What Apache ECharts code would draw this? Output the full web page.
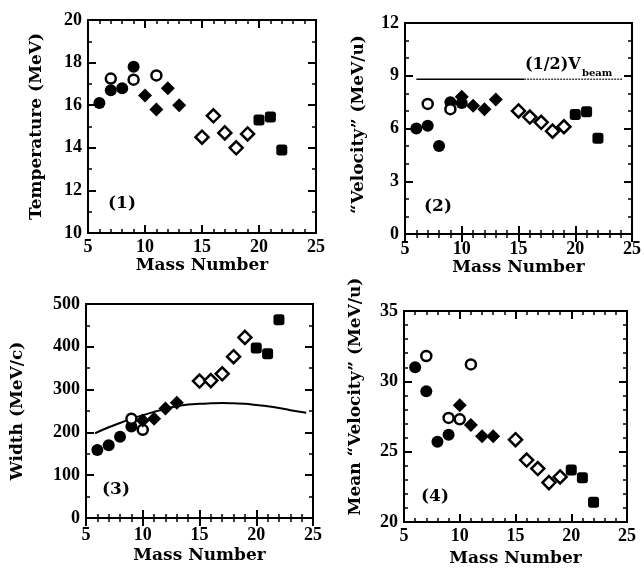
<!DOCTYPE html>
<html>
<head>
<meta charset="utf-8">
<script src="https://cdn.jsdelivr.net/npm/echarts@6/dist/echarts.min.js"></script>
<style>
  html, body { margin: 0; padding: 0; background: #fff; }
  #chart { width: 644px; height: 573px; }
</style>
</head>
<body>
<div id="chart"></div>
<script>
// ---- Panel (1): temperature vs mass number ----
const tempFilledCircle  = [[6, 16.1], [7, 16.7], [8, 16.8], [9, 17.8]];
const tempOpenCircle    = [[7, 17.25], [9, 17.2], [11, 17.4]];
const tempFilledDiamond = [[10, 16.45], [11, 15.8], [12, 16.8], [13, 16.0]];
const tempOpenDiamond   = [[15, 14.5], [16, 15.5], [17, 14.7], [18, 14.0], [19, 14.65]];
const tempFilledSquare  = [[20, 15.3], [21, 15.45], [22, 13.9]];

// ---- Panel (2): "velocity" vs mass number ----
const velFilledCircle  = [[6, 6.0], [7, 6.15], [8, 5.0], [9, 7.5], [10, 7.45]];
const velOpenCircle    = [[7, 7.4], [9, 7.1]];
const velFilledDiamond = [[10, 7.8], [11, 7.3], [12, 7.1], [13, 7.65]];
const velOpenDiamond   = [[15, 7.0], [16, 6.65], [17, 6.35], [18, 5.85], [19, 6.1]];
const velFilledSquare  = [[20, 6.8], [21, 6.95], [22, 5.45]];
const halfBeamSolid    = [[6, 8.8], [15.5, 8.8]];
const halfBeamDotted   = [[15.5, 8.8], [24.2, 8.8]];

// ---- Panel (3): width vs mass number ----
const widFilledCircle  = [[6, 159], [7, 170], [8, 190], [9, 214]];
const widOpenCircle    = [[9, 232], [10, 206]];
const widFilledDiamond = [[10, 228], [11, 232], [12, 256], [13, 269]];
const widOpenDiamond   = [[15, 320], [16, 321], [17, 337], [18, 377], [19, 422]];
const widFilledSquare  = [[20, 397], [21, 384], [22, 463]];
const widCurve = [[5.8, 198], [7, 212], [8, 222], [9, 232], [10, 240], [11, 248],
                  [12, 255], [13, 261], [14, 265], [15, 267], [16, 268], [17, 268.5],
                  [18, 268], [19, 267], [20, 264], [21, 261], [22, 257], [23, 252], [24.4, 246]];

// ---- Panel (4): mean "velocity" vs mass number ----
const meanFilledCircle  = [[6, 31.0], [7, 29.3], [8, 25.7], [9, 26.2]];
const meanOpenCircle    = [[7, 31.8], [9, 27.4], [10, 27.3], [11, 31.2]];
const meanFilledDiamond = [[10, 28.3], [11, 26.9], [12, 26.1], [13, 26.1]];
const meanOpenDiamond   = [[15, 25.85], [16, 24.4], [17, 23.8], [18, 22.8], [19, 23.2]];
const meanFilledSquare  = [[20, 23.7], [21, 23.15], [22, 21.4]];

// Axis ranges
const xRange = { min: 5, max: 25, interval: 5, minor: 5 };
const yRanges = [
  { min: 10, max: 20, interval: 2, minor: 2 },
  { min: 0, max: 12, interval: 3, minor: 3 },
  { min: 0, max: 500, interval: 100, minor: 2 },
  { min: 20, max: 35, interval: 5, minor: 5 }
];
const xTitle = 'Mass Number';
const yTitles = ['Temperature (MeV)', '\u201CVelocity\u201D (MeV/u)', 'Width (MeV/c)', 'Mean \u201CVelocity\u201D (MeV/u)'];

const NAME_FONT = 'DejaVu Serif';
const TICK_FONT = 'Liberation Serif';

const grids = [
  { left: 88, top: 20, width: 228, height: 213 },
  { left: 405, top: 23, width: 227, height: 211 },
  { left: 86, top: 304, width: 227, height: 214 },
  { left: 404, top: 311, width: 223, height: 211 }
];
const yNameGap = [43, 38, 60, 40];
const yNamePad = [[0, 0, 0, 0], [0, 0, 0, 8], [0, 0, 0, 0], [0, 0, 0, 40]];
const xNameGap = [24, 23, 29, 28];
const xLabelMargin = [5, 6, 8, 5];

// Fresh style objects for every axis
const axisLineOf = () => ({ lineStyle: { color: '#000', width: 2 } });
const tickOf = () => ({ show: true, inside: true, length: 8, lineStyle: { color: '#000', width: 2 } });
const minorTickOf = n => ({ show: true, splitNumber: n, length: 4, lineStyle: { color: '#000', width: 1.5 } });
const tickLabelOf = margin => ({
  margin, fontFamily: TICK_FONT, fontWeight: 'bold', fontSize: 18, color: '#000'
});
const nameStyleOf = padding => ({
  fontFamily: NAME_FONT, fontWeight: 'bold', fontSize: 17, color: '#000', padding
});

const xAxes = [], yAxes = [];
grids.forEach((g, i) => {
  const yr = yRanges[i];
  xAxes.push({
    type: 'value', gridIndex: i, position: 'bottom',
    min: xRange.min, max: xRange.max, interval: xRange.interval,
    axisLine: axisLineOf(), axisTick: tickOf(), minorTick: minorTickOf(xRange.minor),
    splitLine: { show: false }, axisLabel: tickLabelOf(xLabelMargin[i]),
    name: xTitle, nameLocation: 'middle', nameGap: xNameGap[i], nameTextStyle: nameStyleOf(0)
  });
  xAxes.push({
    type: 'value', gridIndex: i, position: 'top',
    min: xRange.min, max: xRange.max, interval: xRange.interval,
    axisLine: axisLineOf(), axisTick: tickOf(), minorTick: minorTickOf(xRange.minor),
    splitLine: { show: false }, axisLabel: { show: false }
  });
  yAxes.push({
    type: 'value', gridIndex: i, position: 'left',
    min: yr.min, max: yr.max, interval: yr.interval,
    axisLine: axisLineOf(), axisTick: tickOf(), minorTick: minorTickOf(yr.minor),
    splitLine: { show: false }, axisLabel: tickLabelOf(6),
    name: yTitles[i], nameLocation: 'middle', nameRotate: 90, nameGap: yNameGap[i],
    nameTextStyle: nameStyleOf(yNamePad[i])
  });
  yAxes.push({
    type: 'value', gridIndex: i, position: 'right',
    min: yr.min, max: yr.max, interval: yr.interval,
    axisLine: axisLineOf(), axisTick: tickOf(), minorTick: minorTickOf(yr.minor),
    splitLine: { show: false }, axisLabel: { show: false }
  });
});

// Marker styles for the five isotope groups
const markers = {
  filledCircle:  { symbol: 'circle', symbolSize: 12, itemStyle: { color: '#000', opacity: 1 } },
  openCircle:    { symbol: 'circle', symbolSize: 10, itemStyle: { color: '#fff', borderColor: '#000', borderWidth: 2.5, opacity: 1 } },
  filledDiamond: { symbol: 'diamond', symbolSize: 14, itemStyle: { color: '#000', opacity: 1 } },
  openDiamond:   { symbol: 'diamond', symbolSize: 13, itemStyle: { color: '#fff', borderColor: '#000', borderWidth: 2.5, opacity: 1 } },
  filledSquare:  { symbol: 'roundRect', symbolSize: 11, itemStyle: { color: '#000', opacity: 1 } }
};

const panelData = [
  [tempFilledCircle, tempOpenCircle, tempFilledDiamond, tempOpenDiamond, tempFilledSquare],
  [velFilledCircle, velOpenCircle, velFilledDiamond, velOpenDiamond, velFilledSquare],
  [widFilledCircle, widOpenCircle, widFilledDiamond, widOpenDiamond, widFilledSquare],
  [meanFilledCircle, meanOpenCircle, meanFilledDiamond, meanOpenDiamond, meanFilledSquare]
];
const markerOrder = ['filledCircle', 'openCircle', 'filledDiamond', 'openDiamond', 'filledSquare'];

const series = [];
// Lines first so points sit on top of them
series.push({
  type: 'line', xAxisIndex: 4, yAxisIndex: 4, data: widCurve, smooth: true,
  showSymbol: false, lineStyle: { color: '#000', width: 2 }, z: 1
});
series.push({
  type: 'line', xAxisIndex: 2, yAxisIndex: 2, data: halfBeamSolid,
  showSymbol: false, lineStyle: { color: '#000', width: 1.5 }, z: 1
});
series.push({
  type: 'line', xAxisIndex: 2, yAxisIndex: 2, data: halfBeamDotted,
  showSymbol: false, lineStyle: { color: '#444', width: 1.5, type: [2, 1] }, z: 1
});
panelData.forEach((groups, i) => {
  groups.forEach((pts, k) => {
    series.push(Object.assign({
      type: 'scatter', xAxisIndex: 2 * i, yAxisIndex: 2 * i, data: pts, z: 3
    }, markers[markerOrder[k]]));
  });
});

const textStyleOf = (size, align) => ({
  fontFamily: NAME_FONT, fontWeight: 'bold', fontSize: size, fill: '#000',
  textAlign: align, textVerticalAlign: 'middle'
});
const panelTag = (text, x, y) => ({
  type: 'text', x, y, style: Object.assign({ text }, textStyleOf(17, 'center'))
});

const chart = echarts.init(document.getElementById('chart'), null, { renderer: 'canvas' });
chart.setOption({
  animation: false,
  backgroundColor: '#fff',
  // Each panel is boxed by its grid border as well as its four axes
  grid: grids.map(g => Object.assign({ containLabel: false, show: true, borderColor: '#000', borderWidth: 2, backgroundColor: 'transparent' }, g)),
  xAxis: xAxes,
  yAxis: yAxes,
  series,
  graphic: [
    panelTag('(1)', 122, 204),
    panelTag('(2)', 438, 207),
    panelTag('(3)', 116, 490),
    panelTag('(4)', 435, 497),
    { type: 'text', x: 525, y: 65, style: Object.assign({ text: '(1/2)V' }, textStyleOf(16, 'left')) },
    { type: 'text', x: 582, y: 73, style: Object.assign({ text: 'beam' }, textStyleOf(10, 'left')) }
  ]
});
</script>
</body>
</html>
